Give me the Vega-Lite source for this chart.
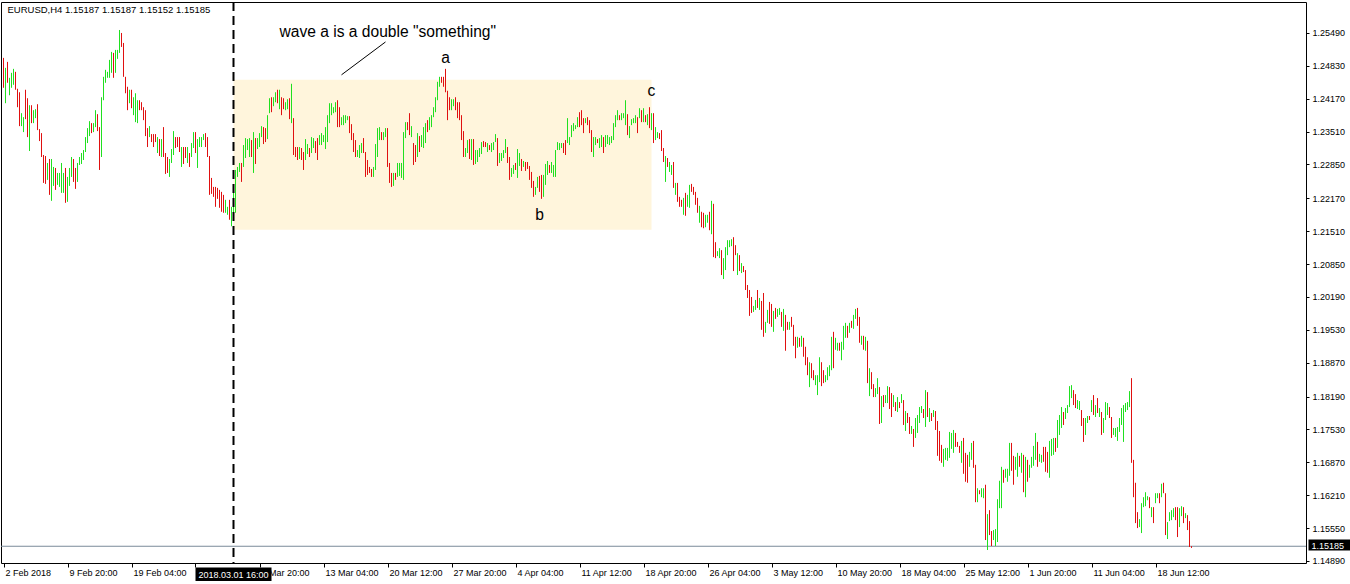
{
"$schema":"https://vega.github.io/schema/vega-lite/v6.json",
"width":1305,"height":561,
"autosize":{"type":"none"},
"padding":{"left":1,"top":2,"right":44,"bottom":21},
"background":"white",
"config":{"view":{"stroke":"black","strokeWidth":1},"font":"Liberation Sans",
 "axis":{"labelOverlap":false,"labelSeparation":0,"labelBound":false,"labelFlush":false,"grid":false,"domain":false,"title":null},
 "axisX":{"labelAlign":"left","labelOffset":1.5,"labelPadding":1,"tickSize":4,"tickColor":"black","labelFont":"Liberation Sans","labelFontSize":9,"labelColor":"black","labelOverlap":false},
 "axisY":{"tickSize":3,"tickColor":"black","labelPadding":3,"labelFont":"Liberation Sans","labelFontSize":9,"labelColor":"black","labelOverlap":false},
 "axisRight":{"labelOverlap":false}},
"datasets":{"bars":[
{"i":0,"h":1.2499,"l":1.2439,"d":"dn"},{"i":1,"h":1.2479,"l":1.2408,"d":"up"},{"i":2,"h":1.2491,"l":1.2449,"d":"dn"},{"i":3,"h":1.2459,"l":1.2424,"d":"up"},{"i":4,"h":1.2469,"l":1.2439,"d":"up"},{"i":5,"h":1.2477,"l":1.2445,"d":"up"},{"i":6,"h":1.2471,"l":1.2435,"d":"dn"},{"i":7,"h":1.2437,"l":1.2400,"d":"dn"},{"i":8,"h":1.2430,"l":1.2362,"d":"dn"},{"i":9,"h":1.2388,"l":1.2362,"d":"up"},
{"i":10,"h":1.2380,"l":1.2350,"d":"up"},{"i":11,"h":1.2435,"l":1.2376,"d":"dn"},{"i":12,"h":1.2418,"l":1.2340,"d":"dn"},{"i":13,"h":1.2404,"l":1.2312,"d":"up"},{"i":14,"h":1.2404,"l":1.2368,"d":"dn"},{"i":15,"h":1.2394,"l":1.2368,"d":"up"},{"i":16,"h":1.2396,"l":1.2378,"d":"up"},{"i":17,"h":1.2406,"l":1.2354,"d":"dn"},{"i":18,"h":1.2356,"l":1.2332,"d":"dn"},{"i":19,"h":1.2348,"l":1.2300,"d":"dn"},
{"i":20,"h":1.2304,"l":1.2248,"d":"dn"},{"i":21,"h":1.2302,"l":1.2246,"d":"dn"},{"i":22,"h":1.2288,"l":1.2254,"d":"up"},{"i":23,"h":1.2296,"l":1.2224,"d":"dn"},{"i":24,"h":1.2296,"l":1.2212,"d":"up"},{"i":25,"h":1.2280,"l":1.2242,"d":"up"},{"i":26,"h":1.2278,"l":1.2234,"d":"dn"},{"i":27,"h":1.2268,"l":1.2244,"d":"up"},{"i":28,"h":1.2268,"l":1.2240,"d":"up"},{"i":29,"h":1.2288,"l":1.2228,"d":"up"},
{"i":30,"h":1.2268,"l":1.2228,"d":"up"},{"i":31,"h":1.2278,"l":1.2208,"d":"dn"},{"i":32,"h":1.2260,"l":1.2210,"d":"up"},{"i":33,"h":1.2278,"l":1.2242,"d":"up"},{"i":34,"h":1.2300,"l":1.2260,"d":"up"},{"i":35,"h":1.2296,"l":1.2250,"d":"dn"},{"i":36,"h":1.2278,"l":1.2236,"d":"dn"},{"i":37,"h":1.2288,"l":1.2250,"d":"up"},{"i":38,"h":1.2300,"l":1.2284,"d":"up"},{"i":39,"h":1.2308,"l":1.2286,"d":"up"},
{"i":40,"h":1.2314,"l":1.2294,"d":"up"},{"i":41,"h":1.2340,"l":1.2310,"d":"up"},{"i":42,"h":1.2358,"l":1.2328,"d":"up"},{"i":43,"h":1.2372,"l":1.2342,"d":"up"},{"i":44,"h":1.2368,"l":1.2348,"d":"dn"},{"i":45,"h":1.2368,"l":1.2350,"d":"up"},{"i":46,"h":1.2394,"l":1.2360,"d":"up"},{"i":47,"h":1.2386,"l":1.2352,"d":"dn"},{"i":48,"h":1.2360,"l":1.2274,"d":"dn"},{"i":49,"h":1.2420,"l":1.2300,"d":"up"},
{"i":50,"h":1.2461,"l":1.2414,"d":"up"},{"i":51,"h":1.2475,"l":1.2449,"d":"up"},{"i":52,"h":1.2471,"l":1.2459,"d":"up"},{"i":53,"h":1.2495,"l":1.2459,"d":"up"},{"i":54,"h":1.2511,"l":1.2469,"d":"up"},{"i":55,"h":1.2509,"l":1.2459,"d":"dn"},{"i":56,"h":1.2515,"l":1.2469,"d":"up"},{"i":57,"h":1.2515,"l":1.2497,"d":"up"},{"i":58,"h":1.2555,"l":1.2509,"d":"up"},{"i":59,"h":1.2549,"l":1.2521,"d":"dn"},
{"i":60,"h":1.2529,"l":1.2461,"d":"dn"},{"i":61,"h":1.2461,"l":1.2428,"d":"dn"},{"i":62,"h":1.2441,"l":1.2394,"d":"dn"},{"i":63,"h":1.2435,"l":1.2408,"d":"up"},{"i":64,"h":1.2435,"l":1.2398,"d":"dn"},{"i":65,"h":1.2420,"l":1.2384,"d":"up"},{"i":66,"h":1.2428,"l":1.2370,"d":"up"},{"i":67,"h":1.2414,"l":1.2368,"d":"up"},{"i":68,"h":1.2414,"l":1.2394,"d":"dn"},{"i":69,"h":1.2410,"l":1.2394,"d":"dn"},
{"i":70,"h":1.2400,"l":1.2374,"d":"dn"},{"i":71,"h":1.2394,"l":1.2342,"d":"dn"},{"i":72,"h":1.2358,"l":1.2320,"d":"dn"},{"i":73,"h":1.2362,"l":1.2340,"d":"up"},{"i":74,"h":1.2346,"l":1.2330,"d":"dn"},{"i":75,"h":1.2346,"l":1.2320,"d":"dn"},{"i":76,"h":1.2346,"l":1.2330,"d":"dn"},{"i":77,"h":1.2340,"l":1.2308,"d":"up"},{"i":78,"h":1.2336,"l":1.2302,"d":"dn"},{"i":79,"h":1.2336,"l":1.2300,"d":"up"},
{"i":80,"h":1.2360,"l":1.2300,"d":"dn"},{"i":81,"h":1.2308,"l":1.2266,"d":"dn"},{"i":82,"h":1.2300,"l":1.2268,"d":"dn"},{"i":83,"h":1.2296,"l":1.2260,"d":"up"},{"i":84,"h":1.2316,"l":1.2288,"d":"up"},{"i":85,"h":1.2352,"l":1.2304,"d":"up"},{"i":86,"h":1.2340,"l":1.2318,"d":"dn"},{"i":87,"h":1.2340,"l":1.2320,"d":"dn"},{"i":88,"h":1.2340,"l":1.2310,"d":"dn"},{"i":89,"h":1.2320,"l":1.2280,"d":"up"},
{"i":90,"h":1.2320,"l":1.2286,"d":"dn"},{"i":91,"h":1.2320,"l":1.2298,"d":"dn"},{"i":92,"h":1.2320,"l":1.2288,"d":"up"},{"i":93,"h":1.2308,"l":1.2280,"d":"dn"},{"i":94,"h":1.2328,"l":1.2300,"d":"up"},{"i":95,"h":1.2350,"l":1.2318,"d":"up"},{"i":96,"h":1.2350,"l":1.2308,"d":"dn"},{"i":97,"h":1.2336,"l":1.2278,"d":"up"},{"i":98,"h":1.2340,"l":1.2320,"d":"up"},{"i":99,"h":1.2340,"l":1.2320,"d":"up"},
{"i":100,"h":1.2346,"l":1.2334,"d":"up"},{"i":101,"h":1.2348,"l":1.2320,"d":"dn"},{"i":102,"h":1.2340,"l":1.2300,"d":"dn"},{"i":103,"h":1.2302,"l":1.2224,"d":"dn"},{"i":104,"h":1.2258,"l":1.2226,"d":"dn"},{"i":105,"h":1.2240,"l":1.2220,"d":"dn"},{"i":106,"h":1.2240,"l":1.2200,"d":"dn"},{"i":107,"h":1.2238,"l":1.2216,"d":"dn"},{"i":108,"h":1.2234,"l":1.2198,"d":"dn"},{"i":109,"h":1.2230,"l":1.2190,"d":"dn"},
{"i":110,"h":1.2224,"l":1.2188,"d":"dn"},{"i":111,"h":1.2214,"l":1.2188,"d":"up"},{"i":112,"h":1.2200,"l":1.2184,"d":"up"},{"i":113,"h":1.2214,"l":1.2174,"d":"dn"},{"i":114,"h":1.2200,"l":1.2161,"d":"up"},{"i":115,"h":1.2244,"l":1.2184,"d":"up"},{"i":116,"h":1.2274,"l":1.2188,"d":"up"},{"i":117,"h":1.2280,"l":1.2260,"d":"up"},{"i":118,"h":1.2288,"l":1.2270,"d":"up"},{"i":119,"h":1.2288,"l":1.2250,"d":"dn"},
{"i":120,"h":1.2324,"l":1.2280,"d":"up"},{"i":121,"h":1.2338,"l":1.2298,"d":"up"},{"i":122,"h":1.2336,"l":1.2314,"d":"up"},{"i":123,"h":1.2338,"l":1.2300,"d":"up"},{"i":124,"h":1.2334,"l":1.2300,"d":"dn"},{"i":125,"h":1.2350,"l":1.2268,"d":"up"},{"i":126,"h":1.2338,"l":1.2286,"d":"dn"},{"i":127,"h":1.2338,"l":1.2316,"d":"up"},{"i":128,"h":1.2348,"l":1.2320,"d":"up"},{"i":129,"h":1.2362,"l":1.2340,"d":"up"},
{"i":130,"h":1.2360,"l":1.2326,"d":"dn"},{"i":131,"h":1.2358,"l":1.2330,"d":"dn"},{"i":132,"h":1.2384,"l":1.2336,"d":"up"},{"i":133,"h":1.2418,"l":1.2388,"d":"up"},{"i":134,"h":1.2420,"l":1.2390,"d":"dn"},{"i":135,"h":1.2420,"l":1.2402,"d":"up"},{"i":136,"h":1.2430,"l":1.2410,"d":"up"},{"i":137,"h":1.2435,"l":1.2408,"d":"dn"},{"i":138,"h":1.2435,"l":1.2396,"d":"up"},{"i":139,"h":1.2420,"l":1.2384,"d":"dn"},
{"i":140,"h":1.2418,"l":1.2396,"d":"dn"},{"i":141,"h":1.2410,"l":1.2394,"d":"up"},{"i":142,"h":1.2416,"l":1.2396,"d":"up"},{"i":143,"h":1.2418,"l":1.2376,"d":"dn"},{"i":144,"h":1.2447,"l":1.2368,"d":"up"},{"i":145,"h":1.2378,"l":1.2304,"d":"dn"},{"i":146,"h":1.2320,"l":1.2300,"d":"dn"},{"i":147,"h":1.2320,"l":1.2294,"d":"dn"},{"i":148,"h":1.2320,"l":1.2296,"d":"up"},{"i":149,"h":1.2318,"l":1.2294,"d":"dn"},
{"i":150,"h":1.2310,"l":1.2274,"d":"dn"},{"i":151,"h":1.2336,"l":1.2294,"d":"up"},{"i":152,"h":1.2326,"l":1.2306,"d":"up"},{"i":153,"h":1.2318,"l":1.2300,"d":"dn"},{"i":154,"h":1.2340,"l":1.2308,"d":"up"},{"i":155,"h":1.2338,"l":1.2318,"d":"up"},{"i":156,"h":1.2332,"l":1.2308,"d":"dn"},{"i":157,"h":1.2338,"l":1.2294,"d":"dn"},{"i":158,"h":1.2344,"l":1.2324,"d":"up"},{"i":159,"h":1.2348,"l":1.2324,"d":"up"},
{"i":160,"h":1.2344,"l":1.2330,"d":"up"},{"i":161,"h":1.2360,"l":1.2316,"d":"up"},{"i":162,"h":1.2384,"l":1.2330,"d":"up"},{"i":163,"h":1.2408,"l":1.2368,"d":"up"},{"i":164,"h":1.2408,"l":1.2384,"d":"up"},{"i":165,"h":1.2400,"l":1.2388,"d":"up"},{"i":166,"h":1.2410,"l":1.2390,"d":"up"},{"i":167,"h":1.2414,"l":1.2360,"d":"dn"},{"i":168,"h":1.2400,"l":1.2360,"d":"dn"},{"i":169,"h":1.2380,"l":1.2364,"d":"up"},
{"i":170,"h":1.2384,"l":1.2364,"d":"up"},{"i":171,"h":1.2384,"l":1.2368,"d":"up"},{"i":172,"h":1.2382,"l":1.2374,"d":"up"},{"i":173,"h":1.2382,"l":1.2348,"d":"dn"},{"i":174,"h":1.2366,"l":1.2334,"d":"dn"},{"i":175,"h":1.2348,"l":1.2310,"d":"dn"},{"i":176,"h":1.2334,"l":1.2300,"d":"dn"},{"i":177,"h":1.2314,"l":1.2300,"d":"up"},{"i":178,"h":1.2324,"l":1.2298,"d":"up"},{"i":179,"h":1.2328,"l":1.2308,"d":"up"},
{"i":180,"h":1.2338,"l":1.2308,"d":"dn"},{"i":181,"h":1.2310,"l":1.2260,"d":"dn"},{"i":182,"h":1.2294,"l":1.2264,"d":"dn"},{"i":183,"h":1.2280,"l":1.2268,"d":"dn"},{"i":184,"h":1.2276,"l":1.2260,"d":"dn"},{"i":185,"h":1.2280,"l":1.2260,"d":"up"},{"i":186,"h":1.2326,"l":1.2274,"d":"up"},{"i":187,"h":1.2358,"l":1.2300,"d":"up"},{"i":188,"h":1.2360,"l":1.2334,"d":"up"},{"i":189,"h":1.2350,"l":1.2334,"d":"dn"},
{"i":190,"h":1.2350,"l":1.2334,"d":"up"},{"i":191,"h":1.2358,"l":1.2340,"d":"up"},{"i":192,"h":1.2358,"l":1.2280,"d":"dn"},{"i":193,"h":1.2288,"l":1.2248,"d":"dn"},{"i":194,"h":1.2268,"l":1.2240,"d":"dn"},{"i":195,"h":1.2268,"l":1.2242,"d":"up"},{"i":196,"h":1.2268,"l":1.2254,"d":"dn"},{"i":197,"h":1.2288,"l":1.2260,"d":"up"},{"i":198,"h":1.2288,"l":1.2262,"d":"up"},{"i":199,"h":1.2288,"l":1.2258,"d":"up"},
{"i":200,"h":1.2350,"l":1.2254,"d":"up"},{"i":201,"h":1.2370,"l":1.2338,"d":"up"},{"i":202,"h":1.2370,"l":1.2354,"d":"dn"},{"i":203,"h":1.2388,"l":1.2344,"d":"dn"},{"i":204,"h":1.2362,"l":1.2340,"d":"up"},{"i":205,"h":1.2328,"l":1.2284,"d":"dn"},{"i":206,"h":1.2324,"l":1.2290,"d":"dn"},{"i":207,"h":1.2348,"l":1.2300,"d":"up"},{"i":208,"h":1.2342,"l":1.2310,"d":"dn"},{"i":209,"h":1.2344,"l":1.2320,"d":"up"},
{"i":210,"h":1.2360,"l":1.2318,"d":"up"},{"i":211,"h":1.2368,"l":1.2328,"d":"up"},{"i":212,"h":1.2374,"l":1.2350,"d":"dn"},{"i":213,"h":1.2380,"l":1.2354,"d":"up"},{"i":214,"h":1.2384,"l":1.2360,"d":"up"},{"i":215,"h":1.2400,"l":1.2380,"d":"up"},{"i":216,"h":1.2420,"l":1.2390,"d":"up"},{"i":217,"h":1.2451,"l":1.2414,"d":"up"},{"i":218,"h":1.2461,"l":1.2441,"d":"up"},{"i":219,"h":1.2461,"l":1.2449,"d":"dn"},
{"i":220,"h":1.2461,"l":1.2441,"d":"dn"},{"i":221,"h":1.2477,"l":1.2430,"d":"dn"},{"i":222,"h":1.2433,"l":1.2374,"d":"dn"},{"i":223,"h":1.2420,"l":1.2394,"d":"dn"},{"i":224,"h":1.2416,"l":1.2394,"d":"up"},{"i":225,"h":1.2416,"l":1.2402,"d":"up"},{"i":226,"h":1.2420,"l":1.2394,"d":"dn"},{"i":227,"h":1.2410,"l":1.2378,"d":"dn"},{"i":228,"h":1.2410,"l":1.2374,"d":"dn"},{"i":229,"h":1.2384,"l":1.2334,"d":"dn"},
{"i":230,"h":1.2352,"l":1.2300,"d":"dn"},{"i":231,"h":1.2318,"l":1.2300,"d":"up"},{"i":232,"h":1.2334,"l":1.2308,"d":"up"},{"i":233,"h":1.2336,"l":1.2296,"d":"dn"},{"i":234,"h":1.2336,"l":1.2294,"d":"up"},{"i":235,"h":1.2336,"l":1.2284,"d":"dn"},{"i":236,"h":1.2314,"l":1.2286,"d":"up"},{"i":237,"h":1.2314,"l":1.2290,"d":"up"},{"i":238,"h":1.2318,"l":1.2300,"d":"up"},{"i":239,"h":1.2330,"l":1.2306,"d":"up"},
{"i":240,"h":1.2332,"l":1.2320,"d":"dn"},{"i":241,"h":1.2330,"l":1.2320,"d":"dn"},{"i":242,"h":1.2328,"l":1.2310,"d":"up"},{"i":243,"h":1.2324,"l":1.2314,"d":"dn"},{"i":244,"h":1.2328,"l":1.2310,"d":"up"},{"i":245,"h":1.2330,"l":1.2314,"d":"up"},{"i":246,"h":1.2346,"l":1.2330,"d":"up"},{"i":247,"h":1.2338,"l":1.2282,"d":"dn"},{"i":248,"h":1.2308,"l":1.2288,"d":"up"},{"i":249,"h":1.2308,"l":1.2292,"d":"up"},
{"i":250,"h":1.2314,"l":1.2298,"d":"up"},{"i":251,"h":1.2336,"l":1.2308,"d":"up"},{"i":252,"h":1.2320,"l":1.2288,"d":"dn"},{"i":253,"h":1.2300,"l":1.2254,"d":"dn"},{"i":254,"h":1.2278,"l":1.2260,"d":"up"},{"i":255,"h":1.2284,"l":1.2266,"d":"up"},{"i":256,"h":1.2288,"l":1.2274,"d":"dn"},{"i":257,"h":1.2316,"l":1.2258,"d":"up"},{"i":258,"h":1.2308,"l":1.2282,"d":"up"},{"i":259,"h":1.2296,"l":1.2272,"d":"dn"},
{"i":260,"h":1.2292,"l":1.2280,"d":"up"},{"i":261,"h":1.2290,"l":1.2272,"d":"dn"},{"i":262,"h":1.2290,"l":1.2276,"d":"dn"},{"i":263,"h":1.2282,"l":1.2254,"d":"dn"},{"i":264,"h":1.2270,"l":1.2238,"d":"dn"},{"i":265,"h":1.2252,"l":1.2220,"d":"dn"},{"i":266,"h":1.2240,"l":1.2224,"d":"up"},{"i":267,"h":1.2260,"l":1.2238,"d":"up"},{"i":268,"h":1.2262,"l":1.2230,"d":"dn"},{"i":269,"h":1.2264,"l":1.2216,"d":"dn"},
{"i":270,"h":1.2264,"l":1.2220,"d":"up"},{"i":271,"h":1.2286,"l":1.2244,"d":"up"},{"i":272,"h":1.2292,"l":1.2264,"d":"up"},{"i":273,"h":1.2284,"l":1.2268,"d":"dn"},{"i":274,"h":1.2290,"l":1.2268,"d":"up"},{"i":275,"h":1.2284,"l":1.2260,"d":"up"},{"i":276,"h":1.2314,"l":1.2260,"d":"up"},{"i":277,"h":1.2330,"l":1.2314,"d":"up"},{"i":278,"h":1.2328,"l":1.2314,"d":"up"},{"i":279,"h":1.2328,"l":1.2318,"d":"up"},
{"i":280,"h":1.2328,"l":1.2308,"d":"dn"},{"i":281,"h":1.2334,"l":1.2304,"d":"dn"},{"i":282,"h":1.2378,"l":1.2328,"d":"up"},{"i":283,"h":1.2340,"l":1.2324,"d":"up"},{"i":284,"h":1.2364,"l":1.2340,"d":"up"},{"i":285,"h":1.2368,"l":1.2352,"d":"up"},{"i":286,"h":1.2364,"l":1.2356,"d":"up"},{"i":287,"h":1.2380,"l":1.2360,"d":"up"},{"i":288,"h":1.2390,"l":1.2360,"d":"dn"},{"i":289,"h":1.2394,"l":1.2364,"d":"dn"},
{"i":290,"h":1.2378,"l":1.2348,"d":"dn"},{"i":291,"h":1.2378,"l":1.2368,"d":"up"},{"i":292,"h":1.2380,"l":1.2364,"d":"dn"},{"i":293,"h":1.2374,"l":1.2348,"d":"dn"},{"i":294,"h":1.2354,"l":1.2310,"d":"dn"},{"i":295,"h":1.2340,"l":1.2300,"d":"up"},{"i":296,"h":1.2340,"l":1.2324,"d":"up"},{"i":297,"h":1.2336,"l":1.2328,"d":"dn"},{"i":298,"h":1.2338,"l":1.2318,"d":"up"},{"i":299,"h":1.2344,"l":1.2320,"d":"up"},
{"i":300,"h":1.2340,"l":1.2308,"d":"dn"},{"i":301,"h":1.2344,"l":1.2320,"d":"up"},{"i":302,"h":1.2344,"l":1.2326,"d":"up"},{"i":303,"h":1.2340,"l":1.2324,"d":"up"},{"i":304,"h":1.2342,"l":1.2328,"d":"up"},{"i":305,"h":1.2368,"l":1.2334,"d":"up"},{"i":306,"h":1.2384,"l":1.2360,"d":"up"},{"i":307,"h":1.2394,"l":1.2374,"d":"up"},{"i":308,"h":1.2384,"l":1.2374,"d":"dn"},{"i":309,"h":1.2388,"l":1.2374,"d":"up"},
{"i":310,"h":1.2388,"l":1.2378,"d":"up"},{"i":311,"h":1.2414,"l":1.2364,"d":"up"},{"i":312,"h":1.2386,"l":1.2344,"d":"dn"},{"i":313,"h":1.2362,"l":1.2338,"d":"up"},{"i":314,"h":1.2376,"l":1.2364,"d":"up"},{"i":315,"h":1.2378,"l":1.2368,"d":"up"},{"i":316,"h":1.2384,"l":1.2368,"d":"up"},{"i":317,"h":1.2380,"l":1.2348,"d":"dn"},{"i":318,"h":1.2398,"l":1.2378,"d":"up"},{"i":319,"h":1.2394,"l":1.2370,"d":"dn"},
{"i":320,"h":1.2398,"l":1.2370,"d":"up"},{"i":321,"h":1.2384,"l":1.2370,"d":"dn"},{"i":322,"h":1.2386,"l":1.2364,"d":"up"},{"i":323,"h":1.2400,"l":1.2358,"d":"dn"},{"i":324,"h":1.2388,"l":1.2354,"d":"up"},{"i":325,"h":1.2388,"l":1.2328,"d":"dn"},{"i":326,"h":1.2360,"l":1.2334,"d":"up"},{"i":327,"h":1.2350,"l":1.2338,"d":"up"},{"i":328,"h":1.2348,"l":1.2336,"d":"dn"},{"i":329,"h":1.2354,"l":1.2312,"d":"dn"},
{"i":330,"h":1.2318,"l":1.2290,"d":"dn"},{"i":331,"h":1.2302,"l":1.2250,"d":"up"},{"i":332,"h":1.2298,"l":1.2280,"d":"dn"},{"i":333,"h":1.2290,"l":1.2270,"d":"up"},{"i":334,"h":1.2284,"l":1.2264,"d":"up"},{"i":335,"h":1.2290,"l":1.2238,"d":"dn"},{"i":336,"h":1.2248,"l":1.2224,"d":"up"},{"i":337,"h":1.2248,"l":1.2210,"d":"dn"},{"i":338,"h":1.2220,"l":1.2200,"d":"dn"},{"i":339,"h":1.2214,"l":1.2200,"d":"dn"},
{"i":340,"h":1.2218,"l":1.2184,"d":"up"},{"i":341,"h":1.2228,"l":1.2182,"d":"dn"},{"i":342,"h":1.2224,"l":1.2200,"d":"up"},{"i":343,"h":1.2244,"l":1.2198,"d":"up"},{"i":344,"h":1.2246,"l":1.2230,"d":"dn"},{"i":345,"h":1.2240,"l":1.2224,"d":"dn"},{"i":346,"h":1.2230,"l":1.2204,"d":"dn"},{"i":347,"h":1.2218,"l":1.2188,"d":"dn"},{"i":348,"h":1.2202,"l":1.2168,"d":"up"},{"i":349,"h":1.2190,"l":1.2159,"d":"dn"},
{"i":350,"h":1.2188,"l":1.2157,"d":"dn"},{"i":351,"h":1.2184,"l":1.2159,"d":"up"},{"i":352,"h":1.2184,"l":1.2168,"d":"up"},{"i":353,"h":1.2190,"l":1.2153,"d":"dn"},{"i":354,"h":1.2212,"l":1.2145,"d":"up"},{"i":355,"h":1.2206,"l":1.2099,"d":"dn"},{"i":356,"h":1.2129,"l":1.2097,"d":"dn"},{"i":357,"h":1.2111,"l":1.2101,"d":"up"},{"i":358,"h":1.2117,"l":1.2097,"d":"up"},{"i":359,"h":1.2113,"l":1.2063,"d":"dn"},
{"i":360,"h":1.2097,"l":1.2055,"d":"up"},{"i":361,"h":1.2119,"l":1.2073,"d":"up"},{"i":362,"h":1.2133,"l":1.2103,"d":"up"},{"i":363,"h":1.2133,"l":1.2119,"d":"up"},{"i":364,"h":1.2135,"l":1.2121,"d":"up"},{"i":365,"h":1.2139,"l":1.2071,"d":"dn"},{"i":366,"h":1.2123,"l":1.2103,"d":"dn"},{"i":367,"h":1.2107,"l":1.2063,"d":"up"},{"i":368,"h":1.2103,"l":1.2071,"d":"dn"},{"i":369,"h":1.2087,"l":1.2067,"d":"up"},
{"i":370,"h":1.2081,"l":1.2069,"d":"dn"},{"i":371,"h":1.2073,"l":1.2033,"d":"dn"},{"i":372,"h":1.2043,"l":1.2017,"d":"dn"},{"i":373,"h":1.2033,"l":1.1981,"d":"dn"},{"i":374,"h":1.2019,"l":1.1987,"d":"dn"},{"i":375,"h":1.2001,"l":1.1989,"d":"up"},{"i":376,"h":1.2013,"l":1.1993,"d":"up"},{"i":377,"h":1.2033,"l":1.1997,"d":"dn"},{"i":378,"h":1.2017,"l":1.1993,"d":"up"},{"i":379,"h":1.2011,"l":1.1953,"d":"dn"},
{"i":380,"h":1.2027,"l":1.1939,"d":"dn"},{"i":381,"h":1.1969,"l":1.1947,"d":"up"},{"i":382,"h":1.1993,"l":1.1967,"d":"up"},{"i":383,"h":1.2009,"l":1.1965,"d":"dn"},{"i":384,"h":1.2005,"l":1.1959,"d":"dn"},{"i":385,"h":1.1991,"l":1.1949,"d":"up"},{"i":386,"h":1.1997,"l":1.1975,"d":"dn"},{"i":387,"h":1.1995,"l":1.1979,"d":"up"},{"i":388,"h":1.1997,"l":1.1983,"d":"up"},{"i":389,"h":1.1989,"l":1.1959,"d":"dn"},
{"i":390,"h":1.1995,"l":1.1951,"d":"up"},{"i":391,"h":1.1983,"l":1.1911,"d":"dn"},{"i":392,"h":1.1969,"l":1.1953,"d":"dn"},{"i":393,"h":1.1969,"l":1.1953,"d":"up"},{"i":394,"h":1.1979,"l":1.1959,"d":"dn"},{"i":395,"h":1.1963,"l":1.1921,"d":"dn"},{"i":396,"h":1.1939,"l":1.1896,"d":"dn"},{"i":397,"h":1.1939,"l":1.1917,"d":"up"},{"i":398,"h":1.1937,"l":1.1919,"d":"dn"},{"i":399,"h":1.1941,"l":1.1919,"d":"up"},
{"i":400,"h":1.1937,"l":1.1899,"d":"dn"},{"i":401,"h":1.1919,"l":1.1882,"d":"dn"},{"i":402,"h":1.1898,"l":1.1862,"d":"dn"},{"i":403,"h":1.1888,"l":1.1838,"d":"up"},{"i":404,"h":1.1886,"l":1.1856,"d":"dn"},{"i":405,"h":1.1872,"l":1.1852,"d":"dn"},{"i":406,"h":1.1862,"l":1.1842,"d":"up"},{"i":407,"h":1.1862,"l":1.1822,"d":"up"},{"i":408,"h":1.1898,"l":1.1848,"d":"up"},{"i":409,"h":1.1888,"l":1.1840,"d":"dn"},
{"i":410,"h":1.1872,"l":1.1846,"d":"dn"},{"i":411,"h":1.1862,"l":1.1848,"d":"up"},{"i":412,"h":1.1878,"l":1.1852,"d":"up"},{"i":413,"h":1.1882,"l":1.1860,"d":"up"},{"i":414,"h":1.1939,"l":1.1872,"d":"up"},{"i":415,"h":1.1949,"l":1.1876,"d":"dn"},{"i":416,"h":1.1937,"l":1.1913,"d":"up"},{"i":417,"h":1.1927,"l":1.1911,"d":"up"},{"i":418,"h":1.1927,"l":1.1911,"d":"dn"},{"i":419,"h":1.1929,"l":1.1892,"d":"up"},
{"i":420,"h":1.1961,"l":1.1913,"d":"up"},{"i":421,"h":1.1967,"l":1.1937,"d":"up"},{"i":422,"h":1.1961,"l":1.1937,"d":"dn"},{"i":423,"h":1.1967,"l":1.1947,"d":"up"},{"i":424,"h":1.1971,"l":1.1957,"d":"dn"},{"i":425,"h":1.1983,"l":1.1955,"d":"up"},{"i":426,"h":1.1995,"l":1.1975,"d":"up"},{"i":427,"h":1.1997,"l":1.1961,"d":"dn"},{"i":428,"h":1.1979,"l":1.1927,"d":"dn"},{"i":429,"h":1.1941,"l":1.1923,"d":"up"},
{"i":430,"h":1.1941,"l":1.1913,"d":"dn"},{"i":431,"h":1.1939,"l":1.1911,"d":"up"},{"i":432,"h":1.1931,"l":1.1846,"d":"dn"},{"i":433,"h":1.1876,"l":1.1820,"d":"up"},{"i":434,"h":1.1868,"l":1.1834,"d":"dn"},{"i":435,"h":1.1844,"l":1.1818,"d":"dn"},{"i":436,"h":1.1836,"l":1.1818,"d":"up"},{"i":437,"h":1.1856,"l":1.1824,"d":"up"},{"i":438,"h":1.1838,"l":1.1764,"d":"dn"},{"i":439,"h":1.1820,"l":1.1766,"d":"up"},
{"i":440,"h":1.1822,"l":1.1798,"d":"dn"},{"i":441,"h":1.1822,"l":1.1806,"d":"up"},{"i":442,"h":1.1840,"l":1.1806,"d":"up"},{"i":443,"h":1.1838,"l":1.1794,"d":"dn"},{"i":444,"h":1.1826,"l":1.1778,"d":"dn"},{"i":445,"h":1.1822,"l":1.1798,"d":"up"},{"i":446,"h":1.1808,"l":1.1790,"d":"dn"},{"i":447,"h":1.1818,"l":1.1788,"d":"up"},{"i":448,"h":1.1808,"l":1.1796,"d":"dn"},{"i":449,"h":1.1824,"l":1.1806,"d":"up"},
{"i":450,"h":1.1812,"l":1.1762,"d":"dn"},{"i":451,"h":1.1790,"l":1.1750,"d":"up"},{"i":452,"h":1.1786,"l":1.1766,"d":"dn"},{"i":453,"h":1.1778,"l":1.1744,"d":"dn"},{"i":454,"h":1.1760,"l":1.1744,"d":"up"},{"i":455,"h":1.1754,"l":1.1718,"d":"dn"},{"i":456,"h":1.1776,"l":1.1736,"d":"up"},{"i":457,"h":1.1782,"l":1.1746,"d":"up"},{"i":458,"h":1.1798,"l":1.1766,"d":"up"},{"i":459,"h":1.1800,"l":1.1786,"d":"up"},
{"i":460,"h":1.1794,"l":1.1776,"d":"dn"},{"i":461,"h":1.1832,"l":1.1758,"d":"up"},{"i":462,"h":1.1828,"l":1.1778,"d":"dn"},{"i":463,"h":1.1796,"l":1.1768,"d":"up"},{"i":464,"h":1.1786,"l":1.1770,"d":"dn"},{"i":465,"h":1.1792,"l":1.1778,"d":"up"},{"i":466,"h":1.1790,"l":1.1752,"d":"dn"},{"i":467,"h":1.1770,"l":1.1700,"d":"dn"},{"i":468,"h":1.1750,"l":1.1690,"d":"dn"},{"i":469,"h":1.1722,"l":1.1686,"d":"dn"},
{"i":470,"h":1.1714,"l":1.1678,"d":"up"},{"i":471,"h":1.1716,"l":1.1692,"d":"up"},{"i":472,"h":1.1716,"l":1.1690,"d":"up"},{"i":473,"h":1.1748,"l":1.1696,"d":"up"},{"i":474,"h":1.1746,"l":1.1714,"d":"up"},{"i":475,"h":1.1752,"l":1.1706,"d":"up"},{"i":476,"h":1.1746,"l":1.1718,"d":"dn"},{"i":477,"h":1.1728,"l":1.1718,"d":"dn"},{"i":478,"h":1.1720,"l":1.1706,"d":"dn"},{"i":479,"h":1.1730,"l":1.1686,"d":"up"},
{"i":480,"h":1.1736,"l":1.1664,"d":"dn"},{"i":481,"h":1.1706,"l":1.1648,"d":"dn"},{"i":482,"h":1.1702,"l":1.1646,"d":"dn"},{"i":483,"h":1.1708,"l":1.1678,"d":"up"},{"i":484,"h":1.1726,"l":1.1692,"d":"up"},{"i":485,"h":1.1730,"l":1.1676,"d":"dn"},{"i":486,"h":1.1682,"l":1.1607,"d":"dn"},{"i":487,"h":1.1635,"l":1.1607,"d":"up"},{"i":488,"h":1.1631,"l":1.1623,"d":"dn"},{"i":489,"h":1.1635,"l":1.1617,"d":"up"},
{"i":490,"h":1.1635,"l":1.1615,"d":"up"},{"i":491,"h":1.1642,"l":1.1531,"d":"dn"},{"i":492,"h":1.1583,"l":1.1511,"d":"up"},{"i":493,"h":1.1591,"l":1.1541,"d":"dn"},{"i":494,"h":1.1549,"l":1.1519,"d":"dn"},{"i":495,"h":1.1551,"l":1.1531,"d":"up"},{"i":496,"h":1.1553,"l":1.1519,"d":"up"},{"i":497,"h":1.1613,"l":1.1527,"d":"up"},{"i":498,"h":1.1650,"l":1.1595,"d":"up"},{"i":499,"h":1.1678,"l":1.1595,"d":"up"},
{"i":500,"h":1.1672,"l":1.1646,"d":"dn"},{"i":501,"h":1.1674,"l":1.1656,"d":"up"},{"i":502,"h":1.1674,"l":1.1648,"d":"up"},{"i":503,"h":1.1726,"l":1.1660,"d":"up"},{"i":504,"h":1.1726,"l":1.1670,"d":"dn"},{"i":505,"h":1.1700,"l":1.1642,"d":"dn"},{"i":506,"h":1.1698,"l":1.1672,"d":"up"},{"i":507,"h":1.1706,"l":1.1658,"d":"up"},{"i":508,"h":1.1700,"l":1.1678,"d":"dn"},{"i":509,"h":1.1706,"l":1.1666,"d":"up"},
{"i":510,"h":1.1702,"l":1.1627,"d":"dn"},{"i":511,"h":1.1698,"l":1.1617,"d":"up"},{"i":512,"h":1.1692,"l":1.1648,"d":"dn"},{"i":513,"h":1.1682,"l":1.1656,"d":"up"},{"i":514,"h":1.1698,"l":1.1676,"d":"up"},{"i":515,"h":1.1720,"l":1.1680,"d":"up"},{"i":516,"h":1.1746,"l":1.1692,"d":"up"},{"i":517,"h":1.1728,"l":1.1678,"d":"dn"},{"i":518,"h":1.1704,"l":1.1688,"d":"up"},{"i":519,"h":1.1702,"l":1.1686,"d":"up"},
{"i":520,"h":1.1718,"l":1.1688,"d":"dn"},{"i":521,"h":1.1718,"l":1.1668,"d":"dn"},{"i":522,"h":1.1708,"l":1.1666,"d":"dn"},{"i":523,"h":1.1730,"l":1.1656,"d":"up"},{"i":524,"h":1.1734,"l":1.1700,"d":"up"},{"i":525,"h":1.1736,"l":1.1702,"d":"up"},{"i":526,"h":1.1736,"l":1.1708,"d":"dn"},{"i":527,"h":1.1772,"l":1.1716,"d":"up"},{"i":528,"h":1.1782,"l":1.1742,"d":"up"},{"i":529,"h":1.1798,"l":1.1756,"d":"up"},
{"i":530,"h":1.1788,"l":1.1762,"d":"dn"},{"i":531,"h":1.1796,"l":1.1774,"d":"up"},{"i":532,"h":1.1802,"l":1.1786,"d":"up"},{"i":533,"h":1.1840,"l":1.1798,"d":"up"},{"i":534,"h":1.1842,"l":1.1816,"d":"up"},{"i":535,"h":1.1832,"l":1.1802,"d":"dn"},{"i":536,"h":1.1824,"l":1.1796,"d":"dn"},{"i":537,"h":1.1812,"l":1.1794,"d":"up"},{"i":538,"h":1.1810,"l":1.1792,"d":"up"},{"i":539,"h":1.1792,"l":1.1760,"d":"dn"},
{"i":540,"h":1.1776,"l":1.1728,"d":"dn"},{"i":541,"h":1.1776,"l":1.1742,"d":"up"},{"i":542,"h":1.1780,"l":1.1766,"d":"up"},{"i":543,"h":1.1780,"l":1.1772,"d":"dn"},{"i":544,"h":1.1812,"l":1.1788,"d":"up"},{"i":545,"h":1.1822,"l":1.1782,"d":"dn"},{"i":546,"h":1.1802,"l":1.1778,"d":"up"},{"i":547,"h":1.1816,"l":1.1786,"d":"dn"},{"i":548,"h":1.1796,"l":1.1778,"d":"up"},{"i":549,"h":1.1788,"l":1.1742,"d":"dn"},
{"i":550,"h":1.1776,"l":1.1746,"d":"up"},{"i":551,"h":1.1808,"l":1.1772,"d":"up"},{"i":552,"h":1.1806,"l":1.1782,"d":"up"},{"i":553,"h":1.1798,"l":1.1776,"d":"dn"},{"i":554,"h":1.1778,"l":1.1736,"d":"dn"},{"i":555,"h":1.1756,"l":1.1742,"d":"up"},{"i":556,"h":1.1756,"l":1.1738,"d":"up"},{"i":557,"h":1.1758,"l":1.1730,"d":"up"},{"i":558,"h":1.1776,"l":1.1748,"d":"up"},{"i":559,"h":1.1796,"l":1.1762,"d":"up"},
{"i":560,"h":1.1802,"l":1.1728,"d":"up"},{"i":561,"h":1.1806,"l":1.1788,"d":"up"},{"i":562,"h":1.1808,"l":1.1792,"d":"up"},{"i":563,"h":1.1830,"l":1.1798,"d":"up"},{"i":564,"h":1.1856,"l":1.1686,"d":"dn"},{"i":565,"h":1.1692,"l":1.1617,"d":"dn"},{"i":566,"h":1.1646,"l":1.1565,"d":"dn"},{"i":567,"h":1.1587,"l":1.1555,"d":"dn"},{"i":568,"h":1.1573,"l":1.1557,"d":"up"},{"i":569,"h":1.1605,"l":1.1545,"d":"up"},
{"i":570,"h":1.1617,"l":1.1597,"d":"up"},{"i":571,"h":1.1627,"l":1.1599,"d":"up"},{"i":572,"h":1.1619,"l":1.1611,"d":"up"},{"i":573,"h":1.1617,"l":1.1595,"d":"dn"},{"i":574,"h":1.1597,"l":1.1577,"d":"up"},{"i":575,"h":1.1597,"l":1.1565,"d":"dn"},{"i":576,"h":1.1625,"l":1.1605,"d":"up"},{"i":577,"h":1.1625,"l":1.1615,"d":"up"},{"i":578,"h":1.1625,"l":1.1605,"d":"dn"},{"i":579,"h":1.1644,"l":1.1617,"d":"up"},
{"i":580,"h":1.1646,"l":1.1625,"d":"dn"},{"i":581,"h":1.1625,"l":1.1541,"d":"dn"},{"i":582,"h":1.1567,"l":1.1533,"d":"up"},{"i":583,"h":1.1587,"l":1.1569,"d":"up"},{"i":584,"h":1.1591,"l":1.1571,"d":"up"},{"i":585,"h":1.1595,"l":1.1577,"d":"up"},{"i":586,"h":1.1597,"l":1.1571,"d":"dn"},{"i":587,"h":1.1597,"l":1.1537,"d":"dn"},{"i":588,"h":1.1595,"l":1.1557,"d":"up"},{"i":589,"h":1.1599,"l":1.1579,"d":"up"},
{"i":590,"h":1.1597,"l":1.1565,"d":"dn"},{"i":591,"h":1.1585,"l":1.1575,"d":"up"},{"i":592,"h":1.1581,"l":1.1551,"d":"dn"},{"i":593,"h":1.1569,"l":1.1517,"d":"dn"},{"i":594,"h":1.15187,"l":1.15152,"d":"dn"}
]},
"layer":[
{"data":{"values":[{"from":115,"to":324,"low":1.2154,"high":1.2455}]},
 "mark":{"type":"rect","color":"#fff5dc"},
 "encoding":{
  "x":{"field":"from","type":"quantitative","title":null,"scale":{"domain":[-1.25,651.25],"nice":false,"zero":false},
   "axis":{"values":[0,32,64,96,128,160,192,224,256,288,320,352,384,416,448,480,512,544,576],"labelOverlap":false,
    "labelExpr":"['2 Feb 2018','9 Feb 20:00','19 Feb 04:00','','5 Mar 20:00','13 Mar 04:00','20 Mar 12:00','27 Mar 20:00','4 Apr 04:00','11 Apr 12:00','18 Apr 20:00','26 Apr 04:00','3 May 12:00','10 May 20:00','18 May 04:00','25 May 12:00','1 Jun 20:00','11 Jun 04:00','18 Jun 12:00'][round(datum.value/32)]"}},
  "x2":{"field":"to"},
  "y":{"field":"low","type":"quantitative","title":null,"scale":{"domain":[1.14849,1.26112],"nice":false,"zero":false},
   "axis":{"orient":"right","values":[1.2549,1.2483,1.2417,1.2351,1.2285,1.2217,1.2151,1.2085,1.2019,1.1953,1.1887,1.1819,1.1753,1.1687,1.1621,1.1555,1.1489],"format":".5f","labelOverlap":false,"tickCount":17}},
  "y2":{"field":"high"}}},
{"data":{"values":[{"p":1.15185}]},
 "mark":{"type":"rule","color":"#7b8a99","strokeWidth":1},
 "encoding":{"y":{"field":"p","type":"quantitative","title":null,"scale":{"domain":[1.14849,1.26112],"nice":false,"zero":false}}}},
{"data":{"name":"bars"},
 "transform":[{"filter":"datum.d === 'up'"}],
 "mark":{"type":"rule","strokeWidth":1,"color":"#20e020"},
 "encoding":{
  "x":{"field":"i","type":"quantitative","title":null,"scale":{"domain":[-1.25,651.25],"nice":false,"zero":false}},
  "y":{"field":"l","type":"quantitative","title":null,"scale":{"domain":[1.14849,1.26112],"nice":false,"zero":false}},
  "y2":{"field":"h"}}},
{"data":{"name":"bars"},
 "transform":[{"filter":"datum.d === 'dn'"}],
 "mark":{"type":"rule","strokeWidth":1,"color":"#e01010"},
 "encoding":{
  "x":{"field":"i","type":"quantitative","title":null,"scale":{"domain":[-1.25,651.25],"nice":false,"zero":false}},
  "y":{"field":"l","type":"quantitative","title":null,"scale":{"domain":[1.14849,1.26112],"nice":false,"zero":false}},
  "y2":{"field":"h"}}},
{"data":{"values":[{"i":115}]},
 "mark":{"type":"rule","color":"black","strokeWidth":2,"strokeDash":[9,5]},
 "encoding":{"x":{"field":"i","type":"quantitative","title":null,"scale":{"domain":[-1.25,651.25],"nice":false,"zero":false}}}},
{"data":{"values":[{"i":169,"i2":191,"p":1.2465,"p2":1.2531}]},
 "mark":{"type":"rule","color":"black","strokeWidth":1},
 "encoding":{
  "x":{"field":"i","type":"quantitative","title":null,"scale":{"domain":[-1.25,651.25],"nice":false,"zero":false}},
  "x2":{"field":"i2"},
  "y":{"field":"p","type":"quantitative","title":null,"scale":{"domain":[1.14849,1.26112],"nice":false,"zero":false}},
  "y2":{"field":"p2"}}},
{"data":{"values":[{"label":"wave a is a double \"something\"","i":138,"p":1.2551}]},
 "mark":{"type":"text","align":"left","baseline":"middle","font":"Liberation Sans","fontSize":15.6,"color":"black"},
 "encoding":{
  "x":{"field":"i","type":"quantitative","title":null,"scale":{"domain":[-1.25,651.25],"nice":false,"zero":false}},
  "y":{"field":"p","type":"quantitative","title":null,"scale":{"domain":[1.14849,1.26112],"nice":false,"zero":false}},
  "text":{"field":"label"}}},
{"data":{"values":[{"label":"a","i":221,"p":1.2499},{"label":"b","i":268,"p":1.2184},{"label":"c","i":324,"p":1.2432}]},
 "mark":{"type":"text","align":"center","baseline":"middle","font":"Liberation Sans","fontSize":15.6,"color":"black"},
 "encoding":{
  "x":{"field":"i","type":"quantitative","title":null,"scale":{"domain":[-1.25,651.25],"nice":false,"zero":false}},
  "y":{"field":"p","type":"quantitative","title":null,"scale":{"domain":[1.14849,1.26112],"nice":false,"zero":false}},
  "text":{"field":"label"}}},
{"data":{"values":[{"label":"EURUSD,H4  1.15187 1.15187 1.15152 1.15185","i":2,"p":1.2595}]},
 "mark":{"type":"text","align":"left","baseline":"middle","font":"Liberation Sans","fontSize":9.5,"color":"black"},
 "encoding":{
  "x":{"field":"i","type":"quantitative","title":null,"scale":{"domain":[-1.25,651.25],"nice":false,"zero":false}},
  "y":{"field":"p","type":"quantitative","title":null,"scale":{"domain":[1.14849,1.26112],"nice":false,"zero":false}},
  "text":{"field":"label"}}},
{"data":{"values":[{"label":"1.15185","p":1.15185}]},
 "layer":[
  {"mark":{"type":"rect","color":"black"},
   "encoding":{
    "x":{"datum":652.5,"type":"quantitative","title":null,"scale":{"domain":[-1.25,651.25],"nice":false,"zero":false}},
    "x2":{"datum":674},
    "y":{"datum":1.1532,"type":"quantitative","title":null,"scale":{"domain":[1.14849,1.26112],"nice":false,"zero":false}},
    "y2":{"datum":1.1510}}},
  {"mark":{"type":"text","align":"left","baseline":"middle","font":"Liberation Sans","fontSize":9,"color":"white"},
   "encoding":{
    "x":{"datum":654,"type":"quantitative","title":null,"scale":{"domain":[-1.25,651.25],"nice":false,"zero":false}},
    "y":{"field":"p","type":"quantitative","title":null,"scale":{"domain":[1.14849,1.26112],"nice":false,"zero":false}},
    "text":{"field":"label"}}}]},
{"data":{"values":[{"label":"2018.03.01 16:00","i":115}]},
 "layer":[
  {"mark":{"type":"rect","color":"black"},
   "encoding":{
    "x":{"datum":96,"type":"quantitative","title":null,"scale":{"domain":[-1.25,651.25],"nice":false,"zero":false}},
    "x2":{"datum":134},
    "y":{"datum":1.14759,"type":"quantitative","title":null,"scale":{"domain":[1.14849,1.26112],"nice":false,"zero":false}},
    "y2":{"datum":1.14488}}},
  {"mark":{"type":"text","align":"center","baseline":"middle","font":"Liberation Sans","fontSize":9,"color":"white"},
   "encoding":{
    "x":{"field":"i","type":"quantitative","title":null,"scale":{"domain":[-1.25,651.25],"nice":false,"zero":false}},
    "y":{"datum":1.14618,"type":"quantitative","title":null,"scale":{"domain":[1.14849,1.26112],"nice":false,"zero":false}},
    "text":{"field":"label"}}}]}
]
}
